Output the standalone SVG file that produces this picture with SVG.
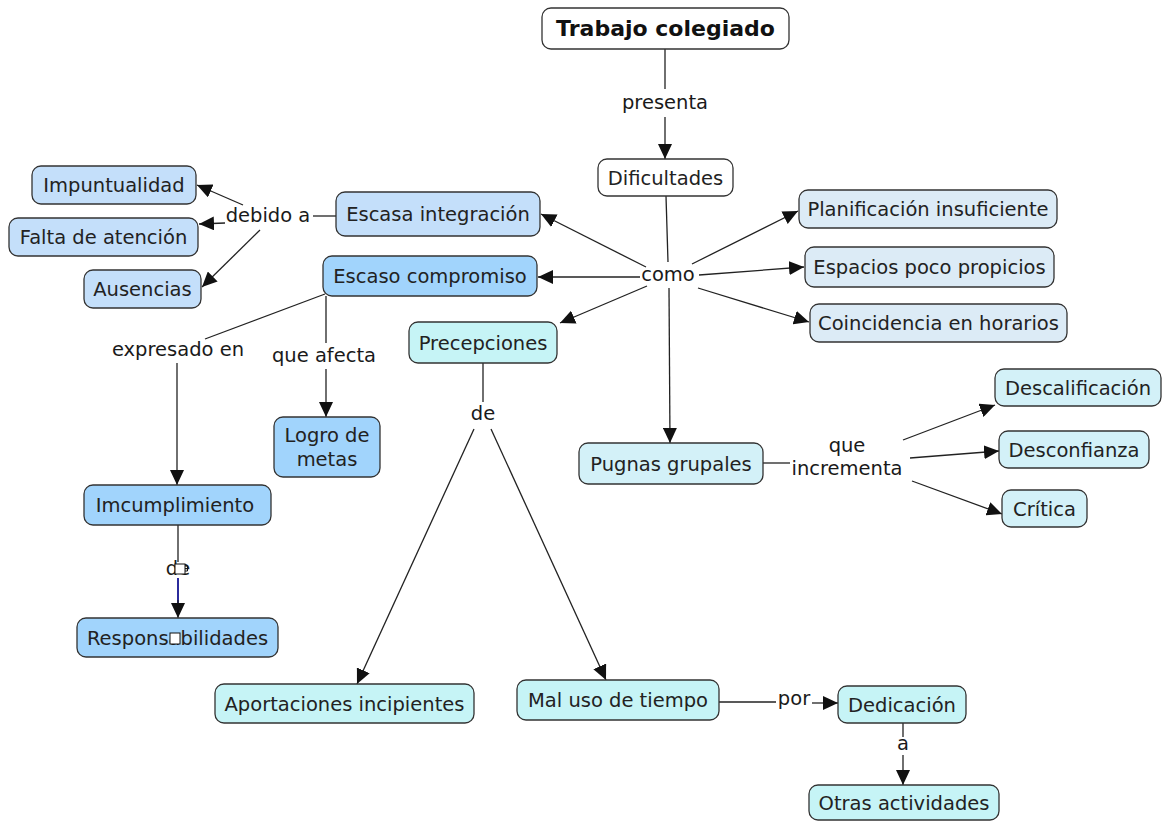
<svg xmlns="http://www.w3.org/2000/svg" width="1163" height="821" viewBox="0 0 1163 821">
  <defs>
    <marker id="arrow" markerUnits="userSpaceOnUse" markerWidth="16" markerHeight="14" refX="15" refY="7" orient="auto">
      <path d="M0,0 L15,7 L0,14 z" fill="#111"/>
    </marker>
    <style>
      .box { stroke: #333; stroke-width: 1.3; }
      .white { fill: #ffffff; }
      .blue1 { fill: #c4dffa; }
      .blue2 { fill: #a1d4fc; }
      .cyan { fill: #c6f4f6; }
      .grey { fill: #dcebf6; }
      .teal { fill: #d3f1f8; }
      text { font-family: "DejaVu Sans", Verdana, sans-serif; font-size: 19.5px; fill: #222; text-anchor: middle; }
      .title { font-weight: bold; font-size: 22px; fill: #111; }
      .lbl { fill: #1a1a1a; }
      .ln { stroke: #222; stroke-width: 1.3; fill: none; }
      .arr { stroke: #222; stroke-width: 1.3; fill: none; marker-end: url(#arrow); }
    </style>
  </defs>

  <rect width="1163" height="821" fill="#ffffff"/>

  <!-- connectors and linking phrases -->
  <g id="connectors">
    <line class="ln" x1="665" y1="49" x2="665" y2="89"/>
    <line class="arr" x1="665" y1="117" x2="665" y2="159"/>
    <text class="lbl" x="665" y="109">presenta</text>

    <line class="ln" x1="666" y1="196" x2="668" y2="262"/>
    <text class="lbl" x="668" y="281">como</text>
    <line class="arr" x1="646" y1="267" x2="541" y2="214"/>
    <line class="arr" x1="640" y1="277" x2="538" y2="277"/>
    <line class="arr" x1="647" y1="286" x2="560" y2="323"/>
    <line class="arr" x1="692" y1="264" x2="798" y2="211"/>
    <line class="arr" x1="699" y1="275" x2="804" y2="267"/>
    <line class="arr" x1="698" y1="288" x2="809" y2="322"/>
    <line class="arr" x1="669" y1="288" x2="670" y2="443"/>

    <line class="ln" x1="336" y1="216" x2="313" y2="216"/>
    <text class="lbl" x="268" y="222">debido a</text>
    <line class="arr" x1="243" y1="205" x2="197" y2="185"/>
    <line class="arr" x1="225" y1="223" x2="199" y2="224"/>
    <line class="arr" x1="260" y1="230" x2="202" y2="287"/>

    <line class="ln" x1="325" y1="294" x2="205" y2="339"/>
    <text class="lbl" x="178" y="356">expresado en</text>
    <line class="arr" x1="177" y1="363" x2="177" y2="485"/>

    <line class="ln" x1="326" y1="296" x2="326" y2="343"/>
    <text class="lbl" x="324" y="362">que afecta</text>
    <line class="arr" x1="326" y1="369" x2="326" y2="417"/>

    <line class="ln" x1="483" y1="363" x2="483" y2="402"/>
    <text class="lbl" x="483" y="420">de</text>
    <line class="arr" x1="474" y1="429" x2="357" y2="684"/>
    <line class="arr" x1="491" y1="429" x2="606" y2="680"/>

    <line class="ln" x1="178" y1="525" x2="178" y2="562"/>
    <text class="lbl" x="178" y="575">de</text>
    <rect x="175" y="564" width="10" height="10" fill="#ffffff" stroke="#111" stroke-width="1"/>
    <path d="M185,566 h2.5 v5 h-2.5" fill="none" stroke="#111" stroke-width="1"/>
    <line x1="178" y1="578" x2="178" y2="604" stroke="#2b2b9c" stroke-width="2"/>
    <line class="arr" x1="178" y1="600" x2="178" y2="618"/>

    <line class="ln" x1="763" y1="463" x2="790" y2="463"/>
    <text class="lbl" x="847" y="452">que</text>
    <text class="lbl" x="847" y="475">incrementa</text>
    <line class="arr" x1="903" y1="440" x2="995" y2="405"/>
    <line class="arr" x1="910" y1="458" x2="999" y2="451"/>
    <line class="arr" x1="912" y1="481" x2="1002" y2="514"/>

    <line class="ln" x1="719" y1="702" x2="776" y2="702"/>
    <text class="lbl" x="794" y="705">por</text>
    <line class="arr" x1="812" y1="703" x2="838" y2="703"/>

    <line class="ln" x1="903" y1="723" x2="903" y2="737"/>
    <text class="lbl" x="903" y="750">a</text>
    <line class="arr" x1="903" y1="755" x2="903" y2="785"/>
  </g>

  <!-- concept nodes -->
  <g id="trabajo-colegiado">
    <rect class="box white" x="542" y="8" width="247" height="41" rx="9"/>
    <text class="title" x="665.5" y="36">Trabajo colegiado</text>
  </g>
  <g id="dificultades">
    <rect class="box white" x="598" y="159" width="135" height="37" rx="9"/>
    <text x="665.5" y="184.5">Dificultades</text>
  </g>
  <g id="escasa-integracion">
    <rect class="box blue1" x="336" y="192" width="204" height="44" rx="9"/>
    <text x="438" y="220.5">Escasa integración</text>
  </g>
  <g id="impuntualidad">
    <rect class="box blue1" x="32" y="166" width="164" height="38" rx="9"/>
    <text x="114" y="192">Impuntualidad</text>
  </g>
  <g id="falta-atencion">
    <rect class="box blue1" x="9" y="218" width="189" height="38" rx="9"/>
    <text x="103.5" y="244">Falta de atención</text>
  </g>
  <g id="ausencias">
    <rect class="box blue1" x="84" y="270" width="117" height="38" rx="9"/>
    <text x="142.5" y="296">Ausencias</text>
  </g>
  <g id="escaso-compromiso">
    <rect class="box blue2" x="323" y="256" width="214" height="40" rx="9"/>
    <text x="430" y="283">Escaso compromiso</text>
  </g>
  <g id="precepciones">
    <rect class="box cyan" x="409" y="322" width="148" height="41" rx="9"/>
    <text x="483" y="349.5">Precepciones</text>
  </g>
  <g id="planificacion">
    <rect class="box grey" x="799" y="190" width="258" height="38" rx="9"/>
    <text x="928" y="216">Planificación insuficiente</text>
  </g>
  <g id="espacios">
    <rect class="box grey" x="805" y="247" width="249" height="40" rx="9"/>
    <text x="929.5" y="274">Espacios poco propicios</text>
  </g>
  <g id="coincidencia">
    <rect class="box grey" x="810" y="304" width="257" height="38" rx="9"/>
    <text x="938.5" y="330">Coincidencia en horarios</text>
  </g>
  <g id="logro-metas">
    <rect class="box blue2" x="274" y="417" width="106" height="60" rx="9"/>
    <text x="327" y="442">Logro de</text>
    <text x="327" y="466">metas</text>
  </g>
  <g id="imcumplimiento">
    <rect class="box blue2" x="84" y="485" width="187" height="40" rx="9"/>
    <text x="175" y="512">Imcumplimiento</text>
  </g>
  <g id="responsabilidades">
    <rect class="box blue2" x="77" y="618" width="201" height="39" rx="9"/>
    <text x="177.5" y="644.5">Responsabilidades</text>
    <rect x="170" y="633" width="10" height="11" fill="#ffffff" stroke="#111" stroke-width="1"/>
  </g>
  <g id="pugnas">
    <rect class="box teal" x="579" y="443" width="184" height="41" rx="9"/>
    <text x="671" y="470.5">Pugnas grupales</text>
  </g>
  <g id="descalificacion">
    <rect class="box teal" x="995" y="369" width="166" height="37" rx="9"/>
    <text x="1078" y="394.5">Descalificación</text>
  </g>
  <g id="desconfianza">
    <rect class="box teal" x="999" y="431" width="150" height="37" rx="9"/>
    <text x="1074" y="456.5">Desconfianza</text>
  </g>
  <g id="critica">
    <rect class="box teal" x="1002" y="490" width="85" height="37" rx="9"/>
    <text x="1044.5" y="515.5">Crítica</text>
  </g>
  <g id="aportaciones">
    <rect class="box cyan" x="215" y="684" width="259" height="39" rx="9"/>
    <text x="344.5" y="710.5">Aportaciones incipientes</text>
  </g>
  <g id="mal-uso">
    <rect class="box cyan" x="517" y="680" width="202" height="40" rx="9"/>
    <text x="618" y="707">Mal uso de tiempo</text>
  </g>
  <g id="dedicacion">
    <rect class="box cyan" x="838" y="686" width="128" height="37" rx="9"/>
    <text x="902" y="711.5">Dedicación</text>
  </g>
  <g id="otras-actividades">
    <rect class="box cyan" x="809" y="785" width="190" height="35" rx="9"/>
    <text x="904" y="810">Otras actividades</text>
  </g>
</svg>
